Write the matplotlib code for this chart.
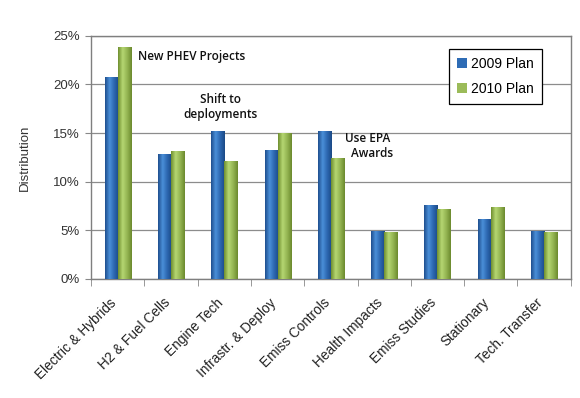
import numpy as np
import matplotlib
matplotlib.use('Agg')
import matplotlib.pyplot as plt
from matplotlib.colors import LinearSegmentedColormap
from matplotlib.transforms import ScaledTranslation

plt.rcParams['font.family'] = ['Liberation Sans', 'DejaVu Sans']

categories = ['Electric & Hybrids', 'H2 & Fuel Cells', 'Engine Tech', 'Infrastr. & Deploy',
              'Emiss Controls', 'Health Impacts', 'Emiss Studies', 'Stationary', 'Tech. Transfer']
plan_2009 = [20.7, 12.8, 15.2, 13.2, 15.2, 4.9, 7.6, 6.1, 4.9]
plan_2010 = [23.8, 13.1, 12.1, 15.0, 12.4, 4.8, 7.1, 7.3, 4.8]
series_names = ['2009 Plan', '2010 Plan']
yticks = [0, 5, 10, 15, 20, 25]

# light/dark shades for the "cylinder" look
blue_cm = LinearSegmentedColormap.from_list('b', ['#1f4f8f', '#4a8fd8', '#2c67b0', '#1b4a86'])
green_cm = LinearSegmentedColormap.from_list('g', ['#6f8f2f', '#b5d672', '#94b552', '#6c8a2e'])

fig = plt.figure(figsize=(5.8, 3.98), dpi=100)
ax = fig.add_axes([0.157, 0.299, 0.827, 0.611])

x = np.arange(len(categories))
w = 0.245
b1 = ax.bar(x - w/2, plan_2009, w, color='#2e6cb5', label=series_names[0], zorder=2)
b2 = ax.bar(x + w/2, plan_2010, w, color='#9bbb59', label=series_names[1], zorder=2)

grad = np.linspace(0, 1, 64).reshape(1, -1)
for bars, cm in ((b1, blue_cm), (b2, green_cm)):
    for p in bars:
        x0, y0 = p.get_x(), p.get_y()
        ax.imshow(grad, cmap=cm, aspect='auto', zorder=3,
                  extent=[x0, x0 + p.get_width(), y0, y0 + p.get_height()])

ax.set_xlim(-0.5, len(categories) - 0.5)
ax.set_ylim(0, 25)
ax.set_yticks(yticks)
ax.set_yticklabels([f'{t}%' for t in yticks], fontsize=9.5, color='#333333')
ax.yaxis.grid(True, color='#8c8c8c', linewidth=0.9, zorder=0)
ax.set_axisbelow(True)

ax.set_xticks(x)
ax.set_xticklabels(categories, rotation=45, ha='right', rotation_mode='anchor',
                   fontsize=9.8, color='#222222')
ax.tick_params(axis='x', length=0, pad=12)
shift = ScaledTranslation(-6/72, 0, fig.dpi_scale_trans)
for lab in ax.get_xticklabels():
    lab.set_transform(lab.get_transform() + shift)
ax.set_xticks(np.arange(-0.5, len(categories)), minor=True)
ax.tick_params(axis='x', which='minor', length=5, color='#888888')
ax.tick_params(axis='y', length=4, color='#888888', pad=4)

for s in ax.spines.values():
    s.set_color('#7f7f7f')
    s.set_linewidth(1.0)

ax.set_ylabel('Distribution', fontsize=9.5, color='#333333', labelpad=16)

ax.text(1.38, 22.9, 'New PHEV Projects', ha='center', va='center',
        fontsize=8.5, family='Open Sans', weight='semibold', color='#111111')
ax.text(1.92, 17.7, 'Shift to\ndeployments', ha='center', va='center',
        fontsize=8.5, family='Open Sans', weight='semibold', color='#111111', linespacing=1.2)
ax.text(4.27, 13.7, 'Use EPA\n  Awards', ha='left', va='center',
        fontsize=8.5, family='Open Sans', weight='semibold', color='#111111', linespacing=1.2)

leg = ax.legend(loc='upper right', bbox_to_anchor=(0.955, 0.975), fontsize=10,
                handlelength=0.7, handleheight=0.7, handletextpad=0.3,
                labelspacing=0.75, borderpad=0.6, fancybox=False, framealpha=1)
leg.get_frame().set_edgecolor('#000000')
leg.get_frame().set_linewidth(0.9)

fig.savefig('out.png', dpi=100)
